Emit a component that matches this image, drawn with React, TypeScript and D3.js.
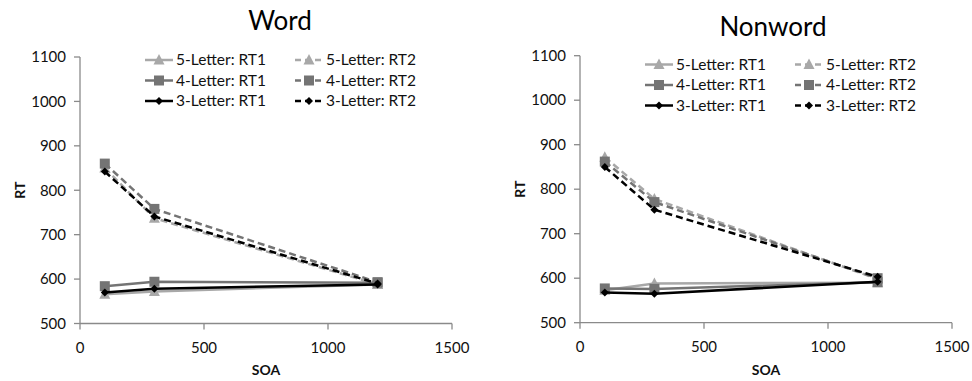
import React from 'react';
import * as d3 from 'd3';

const soa = [100, 300, 1200];
const xTicks = [0, 500, 1000, 1500];
const yTicks = [500, 600, 700, 800, 900, 1000, 1100];
const panelTitles = ['Word', 'Nonword'];
const seriesNames = ['5-Letter: RT1', '5-Letter: RT2', '4-Letter: RT1', '4-Letter: RT2', '3-Letter: RT1', '3-Letter: RT2'];

const word5RT1 = [566, 572, 588];
const word5RT2 = [850, 737, 588];
const word4RT1 = [584, 594, 592];
const word4RT2 = [860, 758, 593];
const word3RT1 = [570, 578, 588];
const word3RT2 = [842, 741, 590];

const nonword5RT1 = [573, 588, 590];
const nonword5RT2 = [872, 778, 598];
const nonword4RT1 = [577, 576, 591];
const nonword4RT2 = [862, 771, 600];
const nonword3RT1 = [568, 565, 592];
const nonword3RT2 = [850, 754, 603];

const wordSeries = [word5RT1, word5RT2, word4RT1, word4RT2, word3RT1, word3RT2];
const nonwordSeries = [nonword5RT1, nonword5RT2, nonword4RT1, nonword4RT2, nonword3RT1, nonword3RT2];

const FONT = 'Lato, "Open Sans", sans-serif';
const AXIS = '#8a8a8a';
const styleFor = (i: number) => {
  const group = Math.floor(i / 2);
  const color = ['#a8a8a8', '#747474', '#000000'][group];
  const marker = ['triangle', 'square', 'diamond'][group];
  const dashed = i % 2 === 1;
  return { color, marker, dashed };
};

function Marker({ x, y, kind, color }: { x: number; y: number; kind: string; color: string }) {
  if (kind === 'square') return <rect x={x - 5} y={y - 5} width={10} height={10} fill={color} />;
  if (kind === 'triangle') return <path d={`M${x},${y - 6}L${x + 5.5},${y + 4.5}L${x - 5.5},${y + 4.5}Z`} fill={color} />;
  return <path d={`M${x},${y - 4}L${x + 4},${y}L${x},${y + 4}L${x - 4},${y}Z`} fill={color} />;
}

function Panel({ ox, title, series, yTop, yBottom, legendTop }: { ox: number; title: string; series: number[][]; yTop: number; yBottom: number; legendTop: number }) {
  const x = d3.scaleLinear().domain([0, 1500]).range([ox + 80, ox + 452]);
  const y = d3.scaleLinear().domain([500, 1100]).range([yBottom, yTop]);
  const line = d3.line<number>().x((_, i) => x(soa[i])).y((d) => y(d));
  const cx = (x.range()[0] + x.range()[1]) / 2;
  return (
    <g>
      <text x={ox + 280 + (title === 'Nonword' ? -7 : 0)} y={title === 'Nonword' ? 36 : 30} textAnchor="middle" fontSize={26} fontFamily={FONT} fill="#000">{title}</text>
      {/* y axis */}
      <line x1={x(0)} x2={x(0)} y1={y(500)} y2={y(1100)} stroke={AXIS} strokeWidth={1.3} />
      {yTicks.map((t) => (
        <g key={t}>
          <line x1={x(0) - 6} x2={x(0)} y1={y(t)} y2={y(t)} stroke={AXIS} strokeWidth={1.3} />
          <text x={x(0) - 14} y={y(t)} dy="0.35em" textAnchor="end" fontSize={15} fontFamily={FONT} fill="#111">{t}</text>
        </g>
      ))}
      {/* x axis */}
      <line x1={x(0)} x2={x(1500)} y1={y(500)} y2={y(500)} stroke={AXIS} strokeWidth={1.3} />
      {xTicks.map((t) => (
        <g key={t}>
          <line x1={x(t)} x2={x(t)} y1={y(500)} y2={y(500) + 6} stroke={AXIS} strokeWidth={1.3} />
          <text x={x(t)} y={y(500) + 24} dy="0.35em" textAnchor="middle" fontSize={15} fontFamily={FONT} fill="#111">{t}</text>
        </g>
      ))}
      <text x={cx} y={y(500) + 47} dy="0.35em" textAnchor="middle" fontSize={14} fontWeight="bold" fontFamily={FONT} fill="#111">SOA</text>
      <text transform={`translate(${ox + 20},${(yTop + yBottom) / 2}) rotate(-90)`} textAnchor="middle" dy="0.35em" fontSize={14} fontWeight="bold" fontFamily={FONT} fill="#111">RT</text>
      {/* series */}
      {series.map((vals, i) => {
        const s = styleFor(i);
        return (
          <g key={i}>
            <path d={line(vals) || ''} fill="none" stroke={s.color} strokeWidth={2.5} strokeDasharray={s.dashed ? '7,4' : undefined} />
            {vals.map((v, j) => <Marker key={j} x={x(soa[j])} y={y(v)} kind={s.marker} color={s.color} />)}
          </g>
        );
      })}
      {/* legend */}
      {seriesNames.map((name, i) => {
        const s = styleFor(i);
        const col = i % 2;
        const row = Math.floor(i / 2);
        const lx = ox + (col === 0 ? 145 : 295);
        const ly = legendTop + row * 20.5;
        return (
          <g key={name}>
            <line x1={lx} x2={lx + 28} y1={ly} y2={ly} stroke={s.color} strokeWidth={2.5} strokeDasharray={s.dashed ? '6,4' : undefined} />
            <Marker x={lx + 14} y={ly} kind={s.marker} color={s.color} />
            <text x={lx + 31} y={ly} dy="0.35em" fontSize={15.5} fontFamily={FONT} fill="#111">{name}</text>
          </g>
        );
      })}
    </g>
  );
}

export default function App() {
  return (
    <svg width={972} height={381} style={{ position: 'absolute', left: 0, top: 0, background: '#fff' }}>
      <rect width={972} height={381} fill="#fff" />
      <Panel ox={0} title={panelTitles[0]} series={wordSeries} yTop={57} yBottom={323.5} legendTop={60} />
      <Panel ox={500} title={panelTitles[1]} series={nonwordSeries} yTop={55.7} yBottom={322.7} legendTop={64.5} />
    </svg>
  );
}
